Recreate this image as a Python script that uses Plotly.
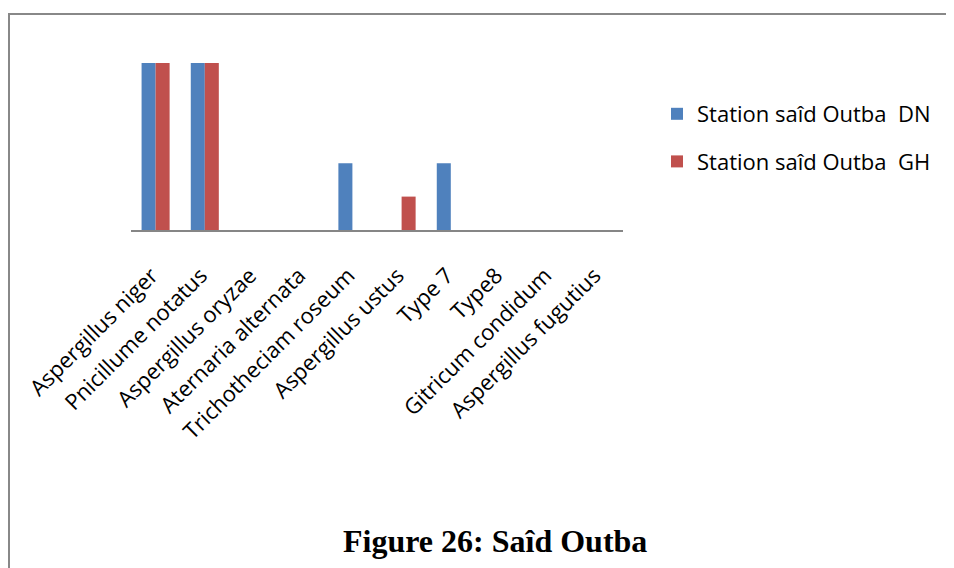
import plotly.graph_objects as go

categories = ["Aspergillus niger", "Pnicillume notatus", "Aspergillus oryzae",
              "Aternaria alternata", "Trichotheciam roseum", "Aspergillus ustus",
              "Type 7", "Type8", "Gitricum condidum", "Aspergillus fugutius"]
dn_values = [5, 5, 0, 0, 2, 0, 2, 0, 0, 0]
gh_values = [5, 5, 0, 0, 0, 1, 0, 0, 0, 0]
series_names = ["Station saîd Outba\u00a0 DN", "Station saîd Outba\u00a0 GH"]

# page coordinates (browser body has an 8px margin)
OFF = 8
W, H = 954, 568
L, R, T, B = 131, 623, 63, 230

fig = go.Figure()
fig.add_trace(go.Bar(x=categories, y=dn_values, name=series_names[0],
                     marker=dict(color="#4F81BD", line=dict(width=0)), legendgroup="a"))
fig.add_trace(go.Bar(x=categories, y=gh_values, name=series_names[1],
                     marker=dict(color="#C0504D", line=dict(width=0)), legendgroup="b"))

def px(x):
    return (x - L) / (R - L)

def py(y):
    return (B - y) / (B - T)

fig.update_layout(
    width=W - OFF, height=H - OFF,
    margin=dict(l=L - OFF, r=W - R, t=T - OFF, b=H - B),
    paper_bgcolor="white", plot_bgcolor="white",
    barmode="group", bargap=0.43, bargroupgap=0,
    font=dict(family="Open Sans", size=20, color="black"),
    xaxis=dict(tickangle=-45, showline=True, linecolor="#868686", linewidth=2,
               ticks="", showgrid=False, zeroline=False, ticklabelshift=-4,
               ticklabelstandoff=22, tickfont=dict(size=22)),
    yaxis=dict(range=[0, 5], visible=False, showgrid=False, zeroline=False),
    legend=dict(x=px(657), y=py(93), xanchor="left", yanchor="top",
                font=dict(size=22), tracegroupgap=16, bgcolor="rgba(0,0,0,0)"),
    showlegend=True,
)

# outer frame (only top and left edges fall inside the window)
fig.add_shape(type="line", xref="paper", yref="paper",
              x0=px(9), x1=px(1000), y0=py(14), y1=py(14),
              line=dict(color="#888888", width=2), layer="below")
fig.add_shape(type="line", xref="paper", yref="paper",
              x0=px(9), x1=px(9), y0=py(13), y1=py(620),
              line=dict(color="#888888", width=2), layer="below")

fig.add_annotation(text="<b>Figure 26: Saîd Outba</b>", xref="paper", yref="paper",
                   x=px(495), y=py(541), xanchor="center", yanchor="middle",
                   showarrow=False,
                   font=dict(family="Liberation Serif", size=32, color="black"))

fig.write_html("out.html")
